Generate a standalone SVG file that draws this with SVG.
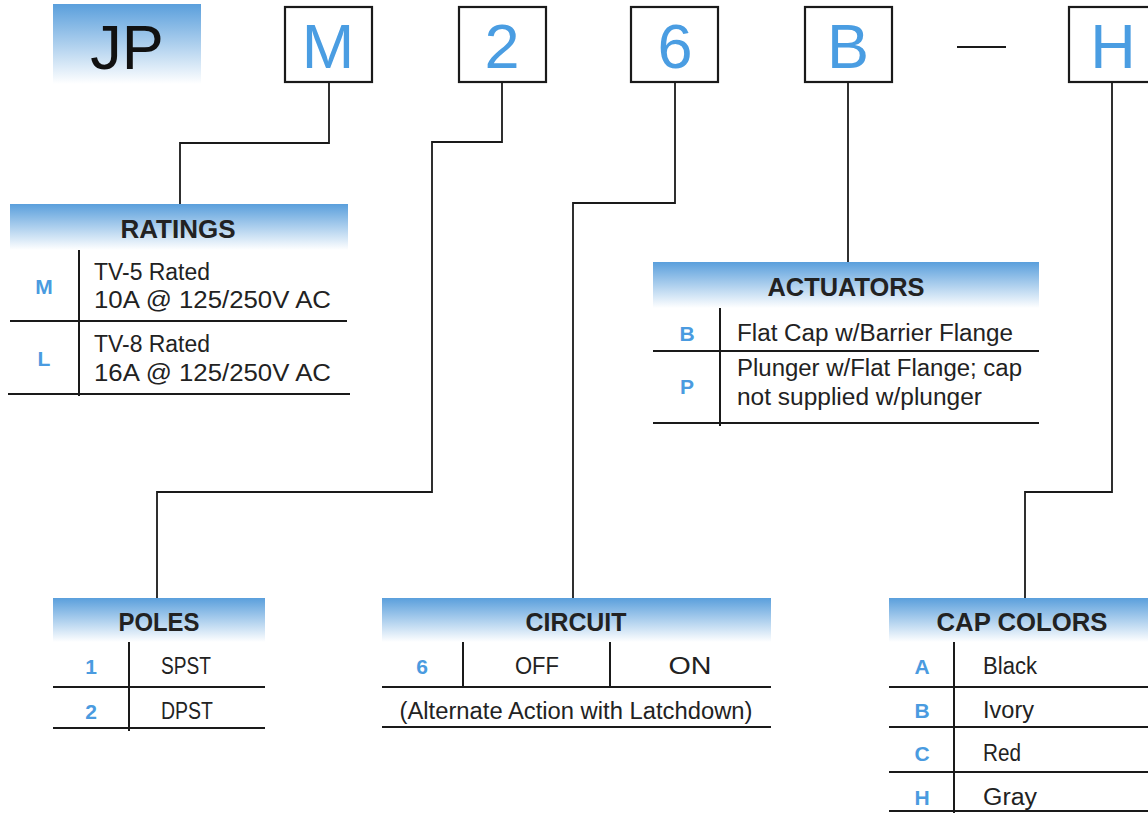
<svg xmlns="http://www.w3.org/2000/svg" width="1148" height="813" viewBox="0 0 1148 813">
<defs>
<linearGradient id="hg" x1="0" y1="0" x2="0" y2="1">
<stop offset="0" stop-color="#5a9fdc"/>
<stop offset="1" stop-color="#ffffff"/>
</linearGradient>
</defs>
<style>
text{font-family:"Liberation Sans",Arial,sans-serif;}
.box{fill:#fff;stroke:#1a1a1a;stroke-width:2.2;}
.big{font-size:63px;fill:#4a9de2;text-anchor:middle;}
.hdr{fill:url(#hg);}
.title{font-size:25px;font-weight:bold;fill:#222;text-anchor:middle;}
.ln{stroke:#1a1a1a;stroke-width:2;fill:none;}
.code{font-size:21px;font-weight:bold;fill:#4a9be0;text-anchor:middle;}
.txt{font-size:23px;fill:#222;}
.mid{text-anchor:middle;}
.con{stroke:#1a1a1a;stroke-width:1.8;fill:none;}
</style>
<rect width="1148" height="813" fill="#fff"/>

<g id="code-jp">
<rect x="53" y="4" width="148" height="80" fill="url(#hg)"/>
<text x="127" y="69" font-size="63" fill="#111" text-anchor="middle">JP</text>
</g>
<g id="code-m"><rect class="box" x="285" y="7" width="87" height="75"/><text class="big" x="328" y="68">M</text></g>
<g id="code-2"><rect class="box" x="459" y="7" width="87" height="75"/><text class="big" x="502" y="68">2</text></g>
<g id="code-6"><rect class="box" x="631" y="7" width="87" height="75"/><text class="big" x="675" y="68">6</text></g>
<g id="code-b"><rect class="box" x="805" y="7" width="87" height="75"/><text class="big" x="848" y="68">B</text></g>
<g id="dash"><line x1="957" y1="47" x2="1006" y2="47" stroke="#1a1a1a" stroke-width="2"/></g>
<g id="code-h"><rect class="box" x="1069" y="7" width="90" height="75"/><text class="big" x="1113" y="68">H</text></g>

<g id="connectors">
<polyline class="con" points="329,82 329,143 180,143 180,205"/>
<polyline class="con" points="502,82 502,142 432,142 432,492 157,492 157,598"/>
<polyline class="con" points="675,82 675,203 573,203 573,598"/>
<polyline class="con" points="848,82 848,263"/>
<polyline class="con" points="1112,82 1112,492 1025,492 1025,598"/>
</g>

<g id="ratings">
<rect class="hdr" x="10" y="204" width="338" height="46"/>
<text class="title" x="178" y="238" textLength="115" lengthAdjust="spacingAndGlyphs">RATINGS</text>
<line class="ln" x1="79" y1="250" x2="79" y2="396"/>
<line class="ln" x1="10" y1="321" x2="347" y2="321"/>
<line class="ln" x1="8" y1="394" x2="350" y2="394"/>
<text class="code" x="44" y="294">M</text>
<text class="txt" x="94" y="280" textLength="116" lengthAdjust="spacingAndGlyphs">TV-5 Rated</text>
<text class="txt" x="94" y="308" textLength="237" lengthAdjust="spacingAndGlyphs">10A @ 125/250V AC</text>
<text class="code" x="44" y="366">L</text>
<text class="txt" x="94" y="352" textLength="116" lengthAdjust="spacingAndGlyphs">TV-8 Rated</text>
<text class="txt" x="94" y="381" textLength="237" lengthAdjust="spacingAndGlyphs">16A @ 125/250V AC</text>
</g>

<g id="actuators">
<rect class="hdr" x="653" y="262" width="386" height="46"/>
<text class="title" x="846" y="296" textLength="157" lengthAdjust="spacingAndGlyphs">ACTUATORS</text>
<line class="ln" x1="720" y1="308" x2="720" y2="426"/>
<line class="ln" x1="653" y1="351" x2="1039" y2="351"/>
<line class="ln" x1="653" y1="423" x2="1039" y2="423"/>
<text class="code" x="687" y="341">B</text>
<text class="txt" x="737" y="341" textLength="276" lengthAdjust="spacingAndGlyphs">Flat Cap w/Barrier Flange</text>
<text class="code" x="687" y="394">P</text>
<text class="txt" x="737" y="376" textLength="285" lengthAdjust="spacingAndGlyphs">Plunger w/Flat Flange; cap</text>
<text class="txt" x="737" y="405" textLength="245" lengthAdjust="spacingAndGlyphs">not supplied w/plunger</text>
</g>

<g id="poles">
<rect class="hdr" x="53" y="598" width="212" height="44"/>
<text class="title" x="159" y="631" textLength="81" lengthAdjust="spacingAndGlyphs">POLES</text>
<line class="ln" x1="129" y1="642" x2="129" y2="731"/>
<line class="ln" x1="53" y1="687" x2="265" y2="687"/>
<line class="ln" x1="53" y1="728" x2="265" y2="728"/>
<text class="code" x="91" y="674">1</text>
<text class="txt mid" x="186" y="674" textLength="50" lengthAdjust="spacingAndGlyphs">SPST</text>
<text class="code" x="91" y="719">2</text>
<text class="txt mid" x="187" y="719" textLength="52" lengthAdjust="spacingAndGlyphs">DPST</text>
</g>

<g id="circuit">
<rect class="hdr" x="382" y="598" width="389" height="44"/>
<text class="title" x="576" y="631" textLength="101" lengthAdjust="spacingAndGlyphs">CIRCUIT</text>
<line class="ln" x1="463" y1="642" x2="463" y2="687"/>
<line class="ln" x1="610" y1="642" x2="610" y2="687"/>
<line class="ln" x1="382" y1="687" x2="771" y2="687"/>
<line class="ln" x1="382" y1="727" x2="771" y2="727"/>
<text class="code" x="422" y="674">6</text>
<text class="txt mid" x="537" y="674" textLength="44" lengthAdjust="spacingAndGlyphs">OFF</text>
<text class="txt mid" x="690" y="674" textLength="43" lengthAdjust="spacingAndGlyphs">ON</text>
<text class="txt mid" x="576" y="719" textLength="353" lengthAdjust="spacingAndGlyphs">(Alternate Action with Latchdown)</text>
</g>

<g id="cap-colors">
<rect class="hdr" x="889" y="598" width="259" height="44"/>
<text class="title" x="1022" y="631" textLength="171" lengthAdjust="spacingAndGlyphs">CAP COLORS</text>
<line class="ln" x1="954" y1="642" x2="954" y2="813"/>
<line class="ln" x1="889" y1="687" x2="1148" y2="687"/>
<line class="ln" x1="889" y1="727" x2="1148" y2="727"/>
<line class="ln" x1="889" y1="772" x2="1148" y2="772"/>
<line class="ln" x1="889" y1="811" x2="1148" y2="811"/>
<text class="code" x="922" y="674">A</text>
<text class="txt" x="983" y="674" textLength="54" lengthAdjust="spacingAndGlyphs">Black</text>
<text class="code" x="922" y="718">B</text>
<text class="txt" x="983" y="718" textLength="51" lengthAdjust="spacingAndGlyphs">Ivory</text>
<text class="code" x="922" y="761">C</text>
<text class="txt" x="983" y="761" textLength="38" lengthAdjust="spacingAndGlyphs">Red</text>
<text class="code" x="922" y="805">H</text>
<text class="txt" x="983" y="805" textLength="54" lengthAdjust="spacingAndGlyphs">Gray</text>
</g>
</svg>
